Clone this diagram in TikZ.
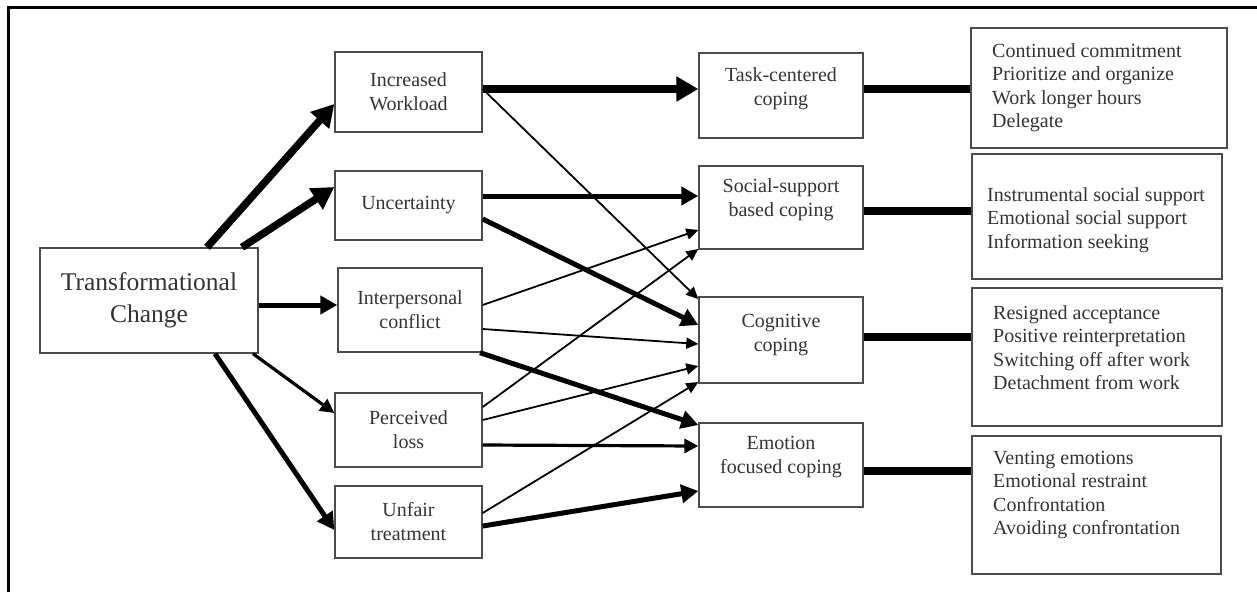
\documentclass[tikz,border=0pt]{standalone}
\usepackage{fontspec}
\setmainfont{Liberation Serif}
\usetikzlibrary{arrows.meta}
\begin{document}
\begin{tikzpicture}[x=1pt,y=-1pt,
  box/.style={draw=black!70, line width=1.4pt, rectangle, inner sep=0pt},
  lbl/.style={text=black!80, font=\fontsize{20}{24}\selectfont, align=center, inner sep=0pt},
  lst/.style={text=black!80, font=\fontsize{20}{23.5}\selectfont, align=left, inner sep=0pt, anchor=north west},
  aA/.style={line width=7.5pt, -{Triangle[length=22pt,width=24pt]}},
  aB/.style={line width=5pt, -{Triangle[length=17pt,width=18pt]}},
  aC/.style={line width=3.2pt, -{Triangle[length=14pt,width=14pt]}},
  aD/.style={line width=1.8pt, -{Triangle[length=12pt,width=11pt]}},
  conn/.style={line width=7.5pt}
]
\useasboundingbox (0,0) rectangle (1257,592);
\draw[line width=2.6pt] (8.7,592) -- (8.7,7.2) -- (1257,7.2);

% left
\node[box, lbl, minimum width=218pt, minimum height=105pt, font=\fontsize{25.5}{32}\selectfont] (tc) at (149,300.5) {Transformational\\Change};
% first column
\node[box, lbl, minimum width=147pt, minimum height=80pt] (iw) at (408.5,92) {Increased\\Workload};
\node[box, lbl, minimum width=147pt, minimum height=69pt] (unc) at (408.5,205.5) {Uncertainty};
\node[box, lbl, minimum width=144pt, minimum height=84pt] (ip) at (410,310) {Interpersonal\\conflict};
\node[box, lbl, minimum width=147pt, minimum height=74pt] (pl) at (408.5,430) {Perceived\\loss};
\node[box, lbl, minimum width=147pt, minimum height=72pt] (ut) at (408.5,522) {Unfair\\treatment};
% middle column
\node[box, minimum width=164pt, minimum height=85pt] (tk) at (781,95.5) {};
\node[lbl] (tkt) at (781,88.5) {Task-centered\\coping};
\node[box, minimum width=164pt, minimum height=83pt] (ss) at (781,207.5) {};
\node[lbl] (sst) at (781,200) {Social-support\\based coping};
\node[box, minimum width=164pt, minimum height=86pt] (cg) at (781,340) {};
\node[lbl] (cgt) at (781,335) {Cognitive\\coping};
\node[box, minimum width=164pt, minimum height=84pt] (em) at (781,465) {};
\node[lbl] (emt) at (781,457) {Emotion\\focused coping};
% right column
\node[box, minimum width=256pt, minimum height=120pt] (r1) at (1099,88) {};
\node[lst] (r1t) at (992,43) {Continued commitment\\Prioritize and organize\\Work longer hours\\Delegate};
\node[box, minimum width=250pt, minimum height=125pt] (r2) at (1097,216.5) {};
\node[lst] (r2t) at (987,187) {Instrumental social support\\Emotional social support\\Information seeking};
\node[box, minimum width=250pt, minimum height=138pt] (r3) at (1097,357) {};
\node[lst] (r3t) at (993,305) {Resigned acceptance\\Positive reinterpretation\\Switching off after work\\Detachment from work};
\node[box, minimum width=249pt, minimum height=138pt] (r4) at (1096.5,505) {};
\node[lst] (r4t) at (993,451) {Venting emotions\\Emotional restraint\\Confrontation\\Avoiding confrontation};

% arrows from transformational change
\draw[aA] (207,0 |- tc.north) -- (iw.west |- 0,104);
\draw[aA] (242,0 |- tc.north) -- (unc.west |- 0,187);
\draw[aB] (tc.east |- 0,305) -- (ip.west |- 0,305);
\draw[aC] (253,0 |- tc.south) -- (pl.west |- 0,413);
\draw[aB] (215,0 |- tc.south) -- (ut.west |- 0,530);

% arrows to coping
\draw[aA] (iw.east |- 0,89) -- (tk.west |- 0,89);
\draw[aD] (iw.east |- 0,89) -- (cg.west |- 0,299);
\draw[aB] (unc.east |- 0,196) -- (ss.west |- 0,196);
\draw[aB] (unc.east |- 0,219) -- (cg.west |- 0,325);
\draw[aD] (ip.east |- 0,305) -- (ss.west |- 0,230);
\draw[aD] (ip.east |- 0,329) -- (cg.west |- 0,344);
\draw[aB] (480,0 |- ip.south) -- (em.west |- 0,425);
\draw[aD] (pl.east |- 0,407) -- (ss.west |- 0,249);
\draw[aD] (pl.east |- 0,420) -- (cg.west |- 0,366);
\draw[aC] (pl.east |- 0,445) -- (em.west |- 0,446);
\draw[aD] (ut.east |- 0,513) -- (cg.west |- 0,382);
\draw[aB] (ut.east |- 0,526) -- (em.west |- 0,491);

% connectors to strategy lists
\draw[conn] (tk.east |- 0,89) -- (r1.west |- 0,89);
\draw[conn] (ss.east |- 0,211) -- (r2.west |- 0,211);
\draw[conn] (cg.east |- 0,337) -- (r3.west |- 0,337);
\draw[conn] (em.east |- 0,471) -- (r4.west |- 0,471);
\end{tikzpicture}
\end{document}
